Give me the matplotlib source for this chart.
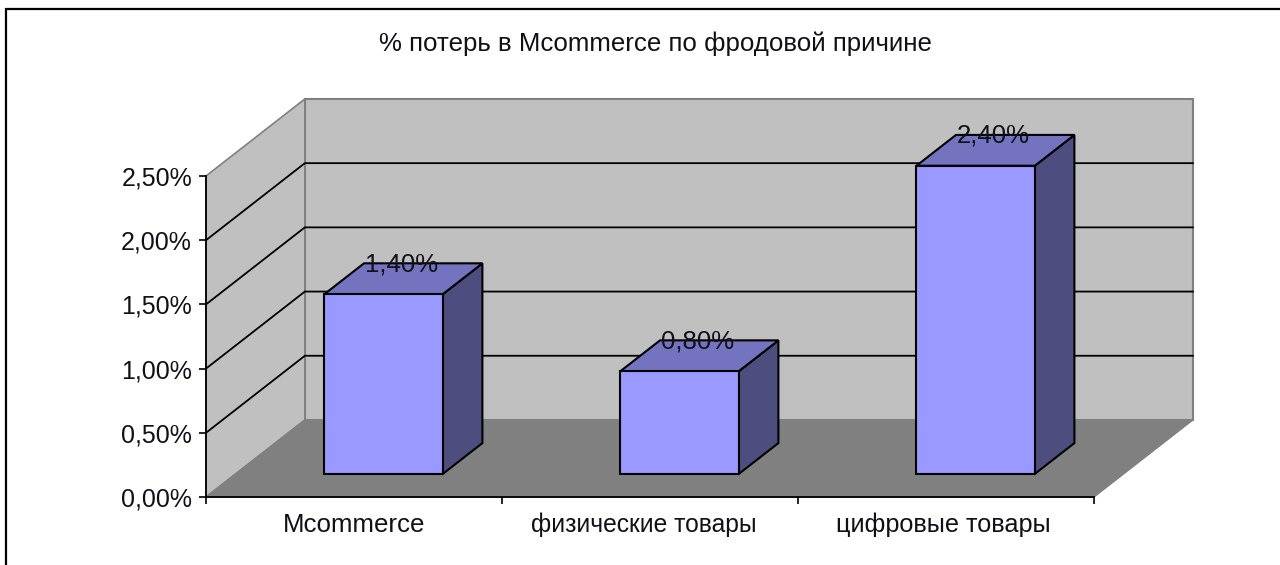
import numpy as np
import matplotlib
matplotlib.use("Agg")
import matplotlib.pyplot as plt
from matplotlib.patches import Polygon, Rectangle

categories = ["Mcommerce", "физические товары", "цифровые товары"]
values = [1.40, 0.80, 2.40]
value_labels = ["1,40%", "0,80%", "2,40%"]
y_ticks = [0.0, 0.5, 1.0, 1.5, 2.0, 2.5]
y_tick_labels = ["0,00%", "0,50%", "1,00%", "1,50%", "2,00%", "2,50%"]
title = "% потерь в Mcommerce по фродовой причине"

# size of the oblique depth direction, in data units
depth_x = 0.334
depth_y = 0.60
bar_width = 0.40
bar_front = 0.30
bar_back = 0.70

plt.rcParams["font.family"] = ["Liberation Sans", "DejaVu Sans"]
W, H = 1280, 565
fig = plt.figure(figsize=(W / 100, H / 100), dpi=100)
ax = fig.add_axes([206 / W, (H - 497) / H, 888 / W, 321 / H])
ax.set_xlim(0, 3)
ax.set_ylim(0, 2.5)
ax.patch.set_visible(False)


def skew(x, y, d):
    # move a point d of the way towards the back wall
    return (x + d * depth_x, y + d * depth_y)


def face(points, color, edge="black", lw=1.5, z=3):
    ax.add_patch(Polygon(points, closed=True, facecolor=color, edgecolor=edge,
                         linewidth=lw, zorder=z, clip_on=False, joinstyle="miter"))


top = y_ticks[-1]
# back wall, side wall, floor
face([skew(0, 0, 1), skew(3, 0, 1), skew(3, top, 1), skew(0, top, 1)], "#c0c0c0", "#808080", 1.5, 1)
face([(0, 0), skew(0, 0, 1), skew(0, top, 1), (0, top)], "#c0c0c0", "#808080", 1.2, 1)
face([(0, 0), (3, 0), skew(3, 0, 1), skew(0, 0, 1)], "#808080", "#808080", 1, 1)

# gridlines run along the side wall and then the back wall
for t in y_ticks[1:-1]:
    p0, p1, p2 = (0, t), skew(0, t, 1), skew(3, t, 1)
    ax.plot([p0[0], p1[0], p2[0]], [p0[1], p1[1], p2[1]], color="black", lw=1.3,
            zorder=2, clip_on=False)

for i, v in enumerate(values):
    x0 = i + 0.5 - bar_width / 2
    x1 = i + 0.5 + bar_width / 2
    face([skew(x0, 0, bar_front), skew(x1, 0, bar_front), skew(x1, v, bar_front), skew(x0, v, bar_front)],
         "#9999ff", z=5)
    face([skew(x1, 0, bar_front), skew(x1, 0, bar_back), skew(x1, v, bar_back), skew(x1, v, bar_front)],
         "#4d4d80", z=4)
    face([skew(x0, v, bar_front), skew(x1, v, bar_front), skew(x1, v, bar_back), skew(x0, v, bar_back)],
         "#7373bf", z=4)
    lx, _ = skew(i + 0.5, v, (bar_front + bar_back) / 2)
    _, ly = skew(i + 0.5, v, bar_back)
    ax.annotate(value_labels[i], (lx, ly), xytext=(-1.5, -0.7), textcoords="offset points",
                ha="center", va="center", fontsize=18.5, color="#101018", zorder=6,
                annotation_clip=False)

for s in ["top", "right"]:
    ax.spines[s].set_visible(False)
for s in ["left", "bottom"]:
    ax.spines[s].set_linewidth(1.3)
    ax.spines[s].set_zorder(4)
ax.set_yticks(y_ticks)
ax.set_yticklabels(y_tick_labels, fontsize=18, color="#101018")
ax.set_xticks([0, 1, 2, 3])
ax.set_xticklabels([])
ax.tick_params(axis="x", which="major", length=5, width=1.2)
ax.tick_params(axis="y", length=5, width=1.2, pad=5)

# the original labels sit a little left of the middle of each category
for i, (name, shift, size) in enumerate(zip(categories, [0, -6, -2.5], [18.6, 17.7, 18.2])):
    ax.annotate(name, (i + 0.5, 0), xytext=(shift * 0.72, -20), textcoords="offset points",
                ha="center", va="center", fontsize=size, color="#101018", annotation_clip=False)

fig.text(655 / W, (H - 44) / H, title, ha="center", va="center", fontsize=18.6, color="#101018")

# border of the original chart, cut off at the right and bottom
fig.add_artist(Rectangle((6 / W, -0.1), 1.2, (H - 9) / H + 0.1, transform=fig.transFigure,
                         fill=False, edgecolor="black", linewidth=1.6))

fig.savefig("out.png", dpi=100)
